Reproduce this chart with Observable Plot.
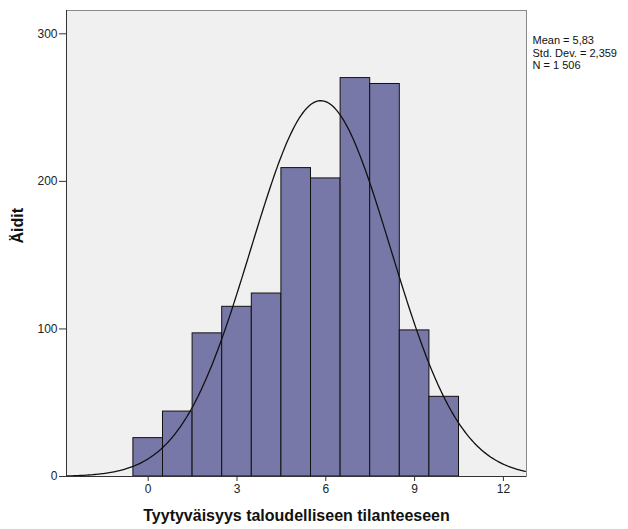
<!DOCTYPE html>
<html>
<head>
<meta charset="utf-8">
<script src="https://cdn.jsdelivr.net/npm/d3@7"></script>
<script src="https://cdn.jsdelivr.net/npm/@observablehq/plot@0.6"></script>
<style>
  body { margin: 0; background: #fff; }
  #chart svg { font-family: "Liberation Sans", Arial, sans-serif; }
</style>
</head>
<body>
<div id="chart"></div>
<script>
const bins = [0, 1, 2, 3, 4, 5, 6, 7, 8, 9, 10];
const counts = [26, 44, 97, 115, 124, 209, 202, 270, 266, 99, 54];
const xTicks = [0, 3, 6, 9, 12];
const yTicks = [0, 100, 200, 300];
const mean = 5.83;
const stdDev = 2.359;
const n = 1506;
const statsLines = ["Mean = 5,83", "Std. Dev. = 2,359", "N = 1 506"];
const xTitle = "Tyytyväisyys taloudelliseen tilanteeseen";
const yTitle = "Äidit";

const barData = bins.map((b, i) => ({x1: b - 0.5, x2: b + 0.5, count: counts[i]}));
const xDomain = [-2.76, 12.78];
const yMax = 315.8;
const curve = d3.range(xDomain[0], xDomain[1] + 0.001, 0.05).map(x => ({
  x,
  y: n / (stdDev * Math.sqrt(2 * Math.PI)) * Math.exp(-0.5 * ((x - mean) / stdDev) ** 2)
}));

const statsMarks = statsLines.map((line, i) =>
  Plot.text([line], {frameAnchor: "top-right", text: d => d, dx: 6, dy: 26 + i * 12.5, textAnchor: "start", fontSize: 11, fill: "#111"})
);

const chart = Plot.plot({
  width: 628,
  height: 529,
  marginLeft: 66,
  marginRight: 102,
  marginTop: 10,
  marginBottom: 53,
  style: {fontSize: "12px", color: "#222", background: "#fff"},
  x: {domain: xDomain, ticks: xTicks, label: null},
  y: {domain: [0, yMax], ticks: yTicks, label: null},
  marks: [
    Plot.rect([{}], {x1: xDomain[0], x2: xDomain[1], y1: 0, y2: yMax, fill: "#f0f0f0"}),
    Plot.rectY(barData, {x1: "x1", x2: "x2", y: "count", fill: "#7878a8", stroke: "#111", strokeWidth: 1, inset: 0}),
    Plot.line(curve, {x: "x", y: "y", stroke: "#111", strokeWidth: 1.3, clip: true}),
    Plot.frame({stroke: "#8a8a8a", strokeWidth: 1}),
    Plot.ruleX([xDomain[0]], {stroke: "#333", strokeWidth: 1}),
    Plot.ruleY([0], {stroke: "#333", strokeWidth: 1}),
    Plot.axisX({ticks: xTicks, tickSize: 5, tickPadding: 3, stroke: "#333", label: null, fontSize: 12}),
    Plot.axisY({ticks: yTicks, tickSize: 7, tickPadding: 2, stroke: "#333", label: null, fontSize: 12}),
    ...statsMarks,
    Plot.text([xTitle], {frameAnchor: "bottom", text: d => d, dy: 44, fontSize: 16, fontWeight: "bold", fill: "#111"}),
    Plot.text([yTitle], {frameAnchor: "left", text: d => d, dx: -49, rotate: -90, fontSize: 16, fontWeight: "bold", fill: "#111"})
  ]
});
document.getElementById("chart").appendChild(chart);
</script>
</body>
</html>
